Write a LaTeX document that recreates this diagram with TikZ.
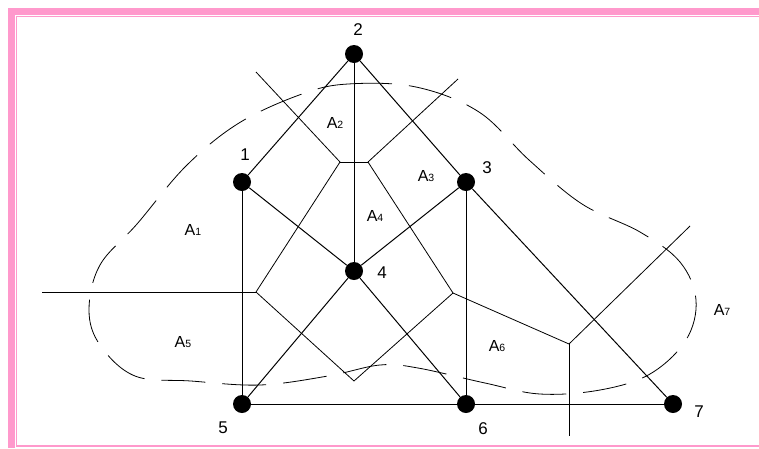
\documentclass[tikz,border=0pt]{standalone}
\usepackage{fontspec}
\setmainfont{Liberation Sans}
\definecolor{framepink}{RGB}{255,153,204}
\newcommand\cellsub[1]{{\fontsize{10.5}{10.5}\selectfont#1}}
\begin{document}
\begin{tikzpicture}[x=1pt,y=-1pt,
  site/.style={circle,fill=black,inner sep=0pt,minimum size=18pt},
  sitelab/.style={font=\fontsize{17}{17}\selectfont,inner sep=0pt},
  cell/.style={font=\fontsize{16}{16}\selectfont,inner sep=0pt},
  edge/.style={line width=1pt},
  ridge/.style={line width=0.8pt},
  hull/.style={line width=0.8pt,dash pattern=on 44pt off 17pt}]
  \useasboundingbox (0,0) rectangle (759,448);
  \clip (0,0) rectangle (759,448);
  % frame, cut off at the right and at the bottom
  \draw[framepink,line width=7pt] (11,448) -- (11,11) -- (759,11);
  \draw[framepink,line width=1.6pt] (759,16.4) -- (16.4,16.4) -- (16.4,446) -- (759,446);
  % sites and triangulation
  \foreach \n/\x/\y in {1/242/182, 2/354/54, 3/466/182, 4/354/271, 5/242/404, 6/466/404, 7/673/404} {
    \node[site] (s\n) at (\x,\y) {};
  }
  \foreach \a/\b in {1/2, 2/3, 2/4, 1/4, 1/5, 3/4, 3/6, 3/7, 4/5, 4/6, 5/6, 6/7} {
    \draw[edge] (s\a) -- (s\b);
  }
  \foreach \n/\x/\y in {1/245/155, 2/358/30, 3/487/168, 4/382/273, 5/223/428, 6/483/429, 7/699/412} {
    \node[sitelab] (l\n) at (\x,\y) {\n};
  }
  % voronoi cells
  \foreach \v/\x/\y in {p/256/72, a/340/162, b/368/162, q/458/79, c/256/292, w/42/292,
                        d/354/381, e/453/293, f/569/344, g/569/436, h/690/226} {
    \coordinate (v\v) at (\x,\y);
  }
  \foreach \a/\b in {p/a, a/b, b/q, a/c, w/c, c/d, d/e, b/e, e/f, f/g, f/h} {
    \draw[ridge] (v\a) -- (v\b);
  }
  \foreach \n/\x/\y in {1/193/230, 2/335/123, 3/426/176, 4/375/216, 5/183/342, 6/497/346, 7/722/310} {
    \node[cell] (A\n) at (\x,\y) {A\cellsub{\n}};
  }
  % region boundary
  \draw[hull] plot[smooth cycle,tension=0.6] coordinates {(302,94) (348,84) (416,87) (479,112)
    (529,160) (582,204) (640,232) (680,262) (696,300) (686,340) (650,374) (600,390)
    (540,394) (485,383) (418,368) (380,365) (328,376) (260,385) (191,381) (135,376)
    (100,345) (89,310) (100,265) (137,224) (186,166) (239,123)};
\end{tikzpicture}
\end{document}
